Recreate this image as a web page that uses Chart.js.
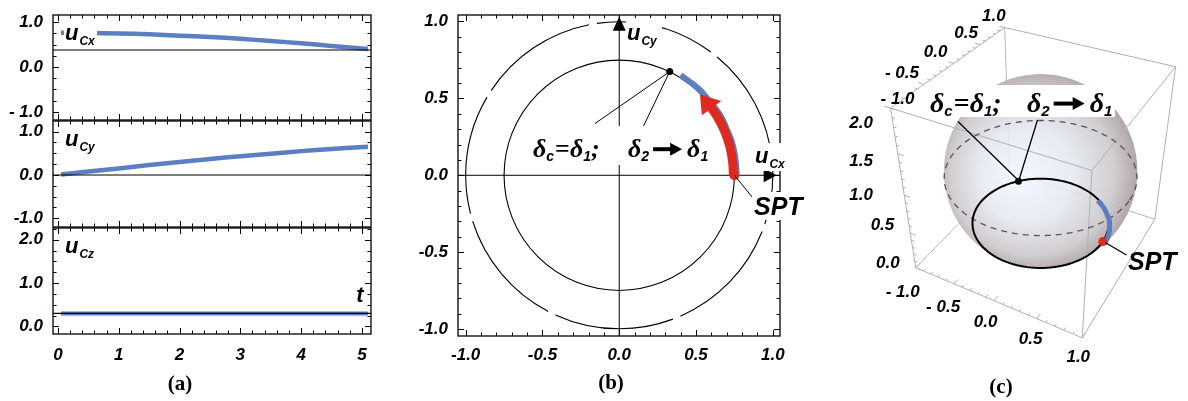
<!DOCTYPE html>
<html>
<head>
<meta charset="utf-8">
<title>u_C trajectory</title>
<script src="https://cdn.jsdelivr.net/npm/chart.js@4.4.1/dist/chart.umd.min.js"></script>
<style>
  html, body { margin:0; padding:0; background:#fff; }
  #figure { position:relative; width:1188px; height:401px; overflow:hidden; background:#fff; }
  #figure canvas { position:absolute; }
  .caption { position:absolute; width:60px; text-align:center; font: bold 21px "Liberation Serif", serif; line-height:24px; color:#000; }
</style>
</head>
<body>
<div id="figure">
  <canvas id="stripX" width="380" height="125" style="left:0;top:0"></canvas>
  <canvas id="stripY" width="380" height="120" style="left:0;top:115px"></canvas>
  <canvas id="stripZ" width="380" height="181" style="left:0;top:220px"></canvas>
  <canvas id="plane" width="420" height="401" style="left:400px;top:0"></canvas>
  <canvas id="sphere" width="358" height="401" style="left:830px;top:0"></canvas>
  <div class="caption" style="left:150px;top:371px">(a)</div>
  <div class="caption" style="left:581px;top:370px">(b)</div>
  <div class="caption" style="left:971px;top:374px">(c)</div>
</div>
<script>
// ---------- data ----------
const tValues = [0.05, 0.5, 1.0, 1.5, 2.0, 2.5, 3.0, 3.5, 4.0, 4.5, 5.1];
const uCx = [0.765, 0.76, 0.75, 0.73, 0.70, 0.67, 0.63, 0.58, 0.53, 0.47, 0.40];
const uCy = [0.01, 0.08, 0.15, 0.23, 0.30, 0.37, 0.43, 0.49, 0.55, 0.60, 0.65];
const uCz = [0.30, 0.30, 0.30, 0.30, 0.30, 0.30, 0.30, 0.30, 0.30, 0.30, 0.30];
const timeTicks = [0, 1, 2, 3, 4, 5];
const uxTicks = [-1, 0, 1];
const uyTicks = [-1, 0, 1];
const uzTicks = [0, 1, 2];
const planeTicks = [-1, -0.5, 0, 0.5, 1];
const boxTicks = [-1, -0.5, 0, 0.5, 1];
const boxZTicks = [0, 0.5, 1, 1.5, 2];
const innerRadius = 0.75;      // radius of the delta circle
const deltaAngle = 64;         // delta_c point in the plane view, degrees
const sphereDeltaAngle = 139;  // delta_c point on the sphere view, degrees
const arrowTipAngle = 45;      // red arrow tip, degrees

const BLUE = '#5b7fc0';
const RED = '#e0291f';
const SANS = '"Liberation Sans", Arial, sans-serif';
const SERIF = '"Liberation Serif", "Times New Roman", serif';
const TICK_FONT = { family: SANS, size: 17, weight: 'bold', style: 'italic' };

// ---------- helpers ----------
function forSteps(min, max, step, major, cb) {
  for (let k = Math.ceil(min / step - 1e-9); k * step <= max + 1e-9; k++) {
    const v = k * step;
    cb(v, Math.abs(v / major - Math.round(v / major)) < 1e-6);
  }
}
function drawFrameTicks(ctx, a, xs, xMinor, xMajor, ys, yMinor, yMajor) {
  ctx.strokeStyle = '#000';
  ctx.lineWidth = 1.3;
  ctx.strokeRect(a.left, a.top, a.right - a.left, a.bottom - a.top);
  ctx.lineWidth = 1;
  ctx.beginPath();
  forSteps(xs.min, xs.max, xMinor, xMajor, (v, mj) => {
    const px = Math.round(xs.getPixelForValue(v)) + 0.5, L = mj ? 6 : 3.5;
    ctx.moveTo(px, a.bottom); ctx.lineTo(px, a.bottom - L);
    ctx.moveTo(px, a.top); ctx.lineTo(px, a.top + L);
  });
  forSteps(ys.min, ys.max, yMinor, yMajor, (v, mj) => {
    const py = Math.round(ys.getPixelForValue(v)) + 0.5, L = mj ? 6 : 3.5;
    ctx.moveTo(a.left, py); ctx.lineTo(a.left + L, py);
    ctx.moveTo(a.right, py); ctx.lineTo(a.right - L, py);
  });
  ctx.stroke();
}
function drawArrowGlyph(ctx, x, yMid, len, shaft, head, half) {
  ctx.fillRect(x, yMid - shaft / 2, len - head + 1, shaft);
  ctx.beginPath();
  ctx.moveTo(x + len - head, yMid - half);
  ctx.lineTo(x + len, yMid);
  ctx.lineTo(x + len - head, yMid + half);
  ctx.closePath();
  ctx.fill();
}
// runs of text with subscripts and arrow glyphs
function drawRich(ctx, x, y, parts) {
  let cx = x;
  ctx.textAlign = 'left';
  ctx.textBaseline = 'alphabetic';
  for (const p of parts) {
    if (p.arrow) {
      drawArrowGlyph(ctx, cx + p.pre, y - p.lift, p.len, p.shaft, p.head, p.half);
      cx += p.pre + p.len + p.post;
      continue;
    }
    ctx.font = p.font;
    ctx.fillText(p.t, cx + (p.dx || 0), y + (p.dy || 0));
    cx += ctx.measureText(p.t).width + (p.dx || 0);
  }
  return cx;
}
function symbolLabel(ctx, x, y, sub, big, small) {
  drawRich(ctx, x, y, [
    { t: 'u', font: `italic bold ${big}px ${SANS}` },
    { t: sub, font: `italic bold ${small}px ${SANS}`, dx: 1, dy: 5 }
  ]);
}
function whiteBox(ctx, x0, y0, x1, y1) {
  ctx.fillStyle = '#fff';
  ctx.fillRect(x0, y0, x1 - x0, y1 - y0);
  ctx.fillStyle = '#000';
}
function deltaParts(size, subSize) {
  const d = `italic bold ${size}px ${SERIF}`, s = `italic bold ${subSize}px ${SANS}`;
  return {
    eq: [{ t: 'δ', font: d }, { t: 'c', font: s, dy: 4 }, { t: '=', font: `bold ${size}px ${SERIF}`, dx: 1 },
         { t: 'δ', font: d }, { t: '1', font: s, dy: 4 }, { t: ';', font: d }],
    go: [{ t: 'δ', font: d }, { t: '2', font: s, dy: 4 },
         { arrow: true, pre: 4, len: Math.round(size * 1.1), shaft: 4, head: 12, half: 6.5, lift: size * 0.3, post: 5 },
         { t: 'δ', font: d }, { t: '1', font: s, dy: 4 }]
  };
}
function fmtTick(spaced) {
  return v => { const s = Math.abs(v).toFixed(1); return v < 0 ? (spaced ? '- ' : '-') + s : s; };
}
const baseOptions = () => ({
  responsive: false, animation: false, devicePixelRatio: 1, events: [],
  plugins: { legend: { display: false }, tooltip: { enabled: false } }
});
// fixed axis sizes, so the plot area sits exactly inside the layout padding
const fixY = w => s => { s.width = w; s.paddingTop = 0; s.paddingBottom = 0; };
const fixX = h => s => { s.height = h; s.paddingLeft = 0; s.paddingRight = 0; };

// ---------- panel (a): three component strips ----------
const stripFramePlugin = {
  id: 'stripFrame',
  afterDatasetsDraw(chart, args, o) {
    const { ctx, chartArea: a, scales: { x, y } } = chart;
    ctx.save();
    const ly = y.getPixelForValue(o.level);
    ctx.strokeStyle = '#000'; ctx.lineWidth = 1.2;
    ctx.beginPath(); ctx.moveTo(a.left, ly); ctx.lineTo(a.right, ly); ctx.stroke();
    drawFrameTicks(ctx, a, x, 0.2, 1, y, 0.25, 1);
    if (o.box) whiteBox(ctx, a.left + 11, a.top + 7, a.left + 44, a.top + 33);
    ctx.fillStyle = '#000';
    symbolLabel(ctx, a.left + 12, a.top + 25, o.sub, 22, 12);
    if (o.showT) {
      ctx.font = `italic bold 22px ${SANS}`;
      ctx.textAlign = 'center';
      ctx.fillText('t', a.right - 11, a.top + 74);
    }
    ctx.restore();
  }
};
function makeStrip(id, values, cfg) {
  const opts = baseOptions();
  opts.layout = { padding: { top: cfg.padTop, bottom: cfg.padBottom, left: 0, right: 9 } };
  opts.plugins.stripFrame = { level: cfg.level, sub: cfg.sub, showT: cfg.showX, box: cfg.box };
  const xScale = {
    type: 'linear', min: -0.082, max: 5.15, display: cfg.showX,
    grid: { display: false, drawTicks: false }, border: { display: false },
    afterBuildTicks: s => { s.ticks = timeTicks.map(v => ({ value: v })); },
    ticks: { font: TICK_FONT, color: '#000', padding: 11, maxRotation: 0, autoSkip: false, callback: v => String(v) }
  };
  if (cfg.showX) xScale.afterFit = fixX(67);
  opts.scales = {
    x: xScale,
    y: {
      type: 'linear', min: cfg.min, max: cfg.max,
      grid: { display: false, drawTicks: false }, border: { display: false },
      afterBuildTicks: s => { s.ticks = cfg.ticks.map(v => ({ value: v })); },
      afterFit: fixY(53),
      ticks: { font: TICK_FONT, color: '#000', padding: 10, autoSkip: false, callback: fmtTick(cfg.spaced) }
    }
  };
  return new Chart(document.getElementById(id), {
    type: 'scatter',
    data: { datasets: [{
      data: tValues.map((t, i) => ({ x: t, y: values[i] })),
      showLine: true, borderColor: BLUE, borderWidth: cfg.lw, pointRadius: 0, tension: 0.3, borderCapStyle: 'butt'
    }] },
    options: opts,
    plugins: [stripFramePlugin]
  });
}
makeStrip('stripX', uCx, { min: -1.18, max: 1.16, ticks: uxTicks, level: 0.38, sub: 'Cx', padTop: 15, padBottom: 5, showX: false, spaced: true, lw: 4.5, box: true });
makeStrip('stripY', uCy, { min: -1.2, max: 1.245, ticks: uyTicks, level: 0, sub: 'Cy', padTop: 6, padBottom: 8, showX: false, spaced: false, lw: 4.5, box: false });
makeStrip('stripZ', uCz, { min: -0.175, max: 2.27, ticks: uzTicks, level: 0.30, sub: 'Cz', padTop: 8, padBottom: 0, showX: true, spaced: false, lw: 4, box: false });

// ---------- panel (b): projection on the u_Cx-u_Cy plane ----------
const rad = Math.PI / 180;
const deltaPoint = { x: innerRadius * Math.cos(deltaAngle * rad), y: innerRadius * Math.sin(deltaAngle * rad) };
const sptPoint = { x: innerRadius, y: 0 };

const planePlugin = {
  id: 'planeDecor',
  beforeDatasetsDraw(chart) {
    const { ctx, chartArea: a, scales: { x, y } } = chart;
    const ox = x.getPixelForValue(0), oy = y.getPixelForValue(0);
    const unit = x.getPixelForValue(1) - ox;
    ctx.save();
    ctx.strokeStyle = '#000';
    // unit circle in long dashes: a short gap every 48 degrees
    const period = unit * 48 * rad, gap = 8, firstGap = 20 * rad * unit;
    ctx.lineWidth = 1.1;
    ctx.setLineDash([period - gap, gap]);
    ctx.lineDashOffset = period - gap / 2 - firstGap;
    ctx.beginPath(); ctx.arc(ox, oy, unit, 0, Math.PI * 2); ctx.stroke();
    ctx.setLineDash([]);
    // delta circle
    ctx.beginPath(); ctx.arc(ox, oy, innerRadius * unit, 0, Math.PI * 2); ctx.stroke();
    // axes with arrow heads
    ctx.lineWidth = 1;
    ctx.beginPath();
    ctx.moveTo(a.left, oy); ctx.lineTo(a.right, oy);
    ctx.moveTo(ox, a.bottom); ctx.lineTo(ox, a.top);
    ctx.stroke();
    ctx.fillStyle = '#000';
    const hx = x.getPixelForValue(1.025);
    ctx.beginPath(); ctx.moveTo(hx, oy); ctx.lineTo(hx - 13, oy - 7); ctx.lineTo(hx - 13, oy + 7); ctx.closePath(); ctx.fill();
    const hy = y.getPixelForValue(1.03);
    ctx.beginPath(); ctx.moveTo(ox, hy); ctx.lineTo(ox - 6.5, hy + 14); ctx.lineTo(ox + 6.5, hy + 14); ctx.closePath(); ctx.fill();
    ctx.restore();
  },
  afterDatasetDraw(chart, args) {
    if (args.index !== 2) return;
    // red arrow along the delta circle, drawn over the trajectory
    const { ctx, scales: { x, y } } = chart;
    const ox = x.getPixelForValue(0), oy = y.getPixelForValue(0);
    const R = innerRadius * (x.getPixelForValue(1) - ox) - 1;
    const tip = arrowTipAngle * rad, base = (arrowTipAngle - 9) * rad;
    ctx.save();
    ctx.strokeStyle = RED; ctx.fillStyle = RED;
    ctx.lineWidth = 9;
    ctx.beginPath(); ctx.arc(ox, oy, R, 0, -(base + 1 * rad), true); ctx.stroke();
    const bx = ox + R * Math.cos(base), by = oy - R * Math.sin(base);
    const nx = Math.cos(base), ny = -Math.sin(base);
    ctx.beginPath();
    ctx.moveTo(bx + nx * 12, by + ny * 12);
    ctx.lineTo(ox + R * Math.cos(tip), oy - R * Math.sin(tip));
    ctx.lineTo(bx - nx * 12, by - ny * 12);
    ctx.closePath(); ctx.fill();
    ctx.restore();
  },
  afterDatasetsDraw(chart) {
    const { ctx, chartArea: a, scales: { x, y } } = chart;
    ctx.save();
    drawFrameTicks(ctx, a, x, 0.1, 0.5, y, 0.1, 0.5);
    const dx = x.getPixelForValue(deltaPoint.x), dy = y.getPixelForValue(deltaPoint.y);
    const sx = x.getPixelForValue(sptPoint.x), sy = y.getPixelForValue(sptPoint.y);
    ctx.strokeStyle = '#000'; ctx.lineWidth = 1;
    ctx.beginPath();
    ctx.moveTo(dx, dy); ctx.lineTo(195, 123.5);
    ctx.moveTo(dx, dy); ctx.lineTo(243.5, 126);
    ctx.moveTo(sx, sy); ctx.lineTo(353, 198);
    ctx.stroke();
    whiteBox(ctx, 128, 126, 316, 165);
    whiteBox(ctx, 226, 18, 262, 49);
    whiteBox(ctx, 352, 143, 388, 171);
    whiteBox(ctx, 352, 192, 402, 220);
    const dp = deltaParts(26, 14);
    drawRich(ctx, 133, 157, dp.eq);
    drawRich(ctx, 228, 157, dp.go);
    symbolLabel(ctx, 227, 40, 'Cy', 22, 12);
    symbolLabel(ctx, 355, 163, 'Cx', 22, 12);
    ctx.font = `italic bold 25px ${SANS}`;
    ctx.fillText('SPT', 354, 215);
    ctx.restore();
  }
};
(function () {
  const opts = baseOptions();
  opts.layout = { padding: { top: 15, right: 40, left: 0, bottom: 0 } };
  opts.scales = {
    x: {
      type: 'linear', min: -1.05, max: 1.047,
      grid: { display: false, drawTicks: false }, border: { display: false },
      afterBuildTicks: s => { s.ticks = planeTicks.map(v => ({ value: v })); },
      afterFit: fixX(65),
      ticks: { font: TICK_FONT, color: '#000', padding: 9, maxRotation: 0, autoSkip: false, callback: fmtTick(false) }
    },
    y: {
      type: 'linear', min: -1.045, max: 1.042,
      grid: { display: false, drawTicks: false }, border: { display: false },
      afterBuildTicks: s => { s.ticks = planeTicks.map(v => ({ value: v })); },
      afterFit: fixY(58),
      ticks: { font: TICK_FONT, color: '#000', padding: 10, autoSkip: false, callback: fmtTick(false) }
    }
  };
  new Chart(document.getElementById('plane'), {
    type: 'scatter',
    data: { datasets: [
      { data: [deltaPoint], pointRadius: 3.5, pointBackgroundColor: '#000', pointBorderWidth: 0, order: 0 },
      { data: [sptPoint], pointRadius: 5, pointBackgroundColor: RED, pointBorderWidth: 0, order: 1 },
      { data: uCx.map((v, i) => ({ x: v, y: uCy[i] })), showLine: true, borderColor: BLUE, borderWidth: 6,
        pointRadius: 0, tension: 0.3, borderCapStyle: 'butt', order: 5 }
    ] },
    options: opts,
    plugins: [planePlugin]
  });
})();

// ---------- panel (c): the sphere in 3D ----------
// perspective camera given by eye position, look-at point, focal length and image centre
function makeCamera(eye, target, f, cx, cy) {
  const wd = [target[0] - eye[0], target[1] - eye[1], target[2] - eye[2]];
  const wn = Math.hypot(wd[0], wd[1], wd[2]);
  const w = [wd[0] / wn, wd[1] / wn, wd[2] / wn];
  const rn = Math.hypot(w[1], w[0]);
  const r = [w[1] / rn, -w[0] / rn, 0];
  const u = [r[1] * w[2] - r[2] * w[1], r[2] * w[0] - r[0] * w[2], r[0] * w[1] - r[1] * w[0]];
  const project = P => {
    const d = [P[0] - eye[0], P[1] - eye[1], P[2] - eye[2]];
    const z = d[0] * w[0] + d[1] * w[1] + d[2] * w[2];
    return [cx + f * (d[0] * r[0] + d[1] * r[1] + d[2] * r[2]) / z,
            cy - f * (d[0] * u[0] + d[1] * u[1] + d[2] * u[2]) / z, z];
  };
  return { eye, project };
}
// outline of a sphere as seen from the eye
function sphereOutline(cam, S, rho, n) {
  const v = [cam.eye[0] - S[0], cam.eye[1] - S[1], cam.eye[2] - S[2]];
  const L2 = v[0] * v[0] + v[1] * v[1] + v[2] * v[2], L = Math.sqrt(L2), k = rho * rho / L2;
  const Q = [S[0] + v[0] * k, S[1] + v[1] * k, S[2] + v[2] * k], rs = rho * Math.sqrt(1 - k);
  const vn = [v[0] / L, v[1] / L, v[2] / L];
  let e1 = [vn[1], -vn[0], 0]; const n1 = Math.hypot(e1[0], e1[1]); e1 = [e1[0] / n1, e1[1] / n1, 0];
  const e2 = [vn[1] * e1[2] - vn[2] * e1[1], vn[2] * e1[0] - vn[0] * e1[2], vn[0] * e1[1] - vn[1] * e1[0]];
  const pts = [];
  for (let i = 0; i < n; i++) {
    const t = 2 * Math.PI * i / n;
    pts.push(cam.project([Q[0] + rs * (Math.cos(t) * e1[0] + Math.sin(t) * e2[0]),
                          Q[1] + rs * (Math.cos(t) * e1[1] + Math.sin(t) * e2[1]),
                          Q[2] + rs * (Math.cos(t) * e1[2] + Math.sin(t) * e2[2])]));
  }
  return pts;
}
const boxCenter = [0, 0, 1];
const viewPoint = [1.3, -2.4, 2];   // in box-scaled units (box side = 1)
const eyePos = [boxCenter[0] + 2 * viewPoint[0], boxCenter[1] + 2 * viewPoint[1], boxCenter[2] + 2 * viewPoint[2]];
const cam = makeCamera(eyePos, boxCenter, 664.5, 211.4, 170.5);
const circleZ = 1 - Math.sqrt(1 - innerRadius * innerRadius);

const boxCorners = {
  A: [-1, -1, 2], B: [-1, 1, 2], C: [1, 1, 2], D: [1, -1, 2],
  E: [-1, -1, 0], F: [1, -1, 0], G: [1, 1, 0], H: [-1, 1, 0]
};
const backEdges = [['B', 'H'], ['E', 'H'], ['H', 'G']];
const frontEdges = [['A', 'B'], ['B', 'C'], ['C', 'D'], ['D', 'A'], ['A', 'E'], ['D', 'F'], ['C', 'G'], ['E', 'F'], ['F', 'G']];
const boxLabel = v => v < 0 ? '- ' + Math.abs(v).toFixed(1) : v.toFixed(1);

const spherePlugin = {
  id: 'sphereDecor',
  beforeDatasetsDraw(chart) {
    const { ctx, scales: { x, y } } = chart;
    const P = p => { const q = cam.project(p); return [x.getPixelForValue(q[0]), y.getPixelForValue(q[1])]; };
    const seg = (p, q) => { const a = P(p), b = P(q); ctx.moveTo(a[0], a[1]); ctx.lineTo(b[0], b[1]); };
    ctx.save();
    ctx.strokeStyle = '#b8b8b8'; ctx.lineWidth = 1;
    ctx.beginPath(); backEdges.forEach(([m, n]) => seg(boxCorners[m], boxCorners[n])); ctx.stroke();
    // translucent shaded sphere
    const sil = sphereOutline(cam, [0, 0, 1], 1, 120).map(q => [x.getPixelForValue(q[0]), y.getPixelForValue(q[1])]);
    const c0 = P([0, 0, 1]);
    let rMax = 0; sil.forEach(q => { rMax = Math.max(rMax, Math.hypot(q[0] - c0[0], q[1] - c0[1])); });
    const g = ctx.createRadialGradient(c0[0] - 22, c0[1] + 8, 2, c0[0] - 5, c0[1], rMax * 1.05);
    g.addColorStop(0, 'rgba(242,247,255,0.90)');
    g.addColorStop(0.45, 'rgba(228,232,240,0.88)');
    g.addColorStop(0.8, 'rgba(203,199,202,0.88)');
    g.addColorStop(1, 'rgba(168,156,156,0.90)');
    ctx.fillStyle = g;
    ctx.beginPath(); sil.forEach((q, i) => i ? ctx.lineTo(q[0], q[1]) : ctx.moveTo(q[0], q[1])); ctx.closePath(); ctx.fill();
    ctx.strokeStyle = '#b0b0b0';
    ctx.beginPath(); frontEdges.forEach(([m, n]) => seg(boxCorners[m], boxCorners[n])); ctx.stroke();
    ctx.beginPath();
    forSteps(-1, 1, 0.1, 0.5, (v, mj) => { const L = mj ? 0.07 : 0.035; seg([-1, v, 2], [-1 - L, v, 2]); seg([v, -1, 0], [v, -1 + L, 0]); });
    forSteps(0, 2, 0.1, 0.5, (v, mj) => { const L = mj ? 0.07 : 0.035; seg([-1, -1, v], [-1 + L, -1, v]); });
    ctx.stroke();
    // equator, dashed
    ctx.strokeStyle = '#555'; ctx.lineWidth = 1.3; ctx.setLineDash([6, 5]);
    ctx.beginPath();
    for (let i = 0; i <= 120; i++) { const t = 2 * Math.PI * i / 120; const q = P([Math.cos(t), Math.sin(t), 1]); i ? ctx.lineTo(q[0], q[1]) : ctx.moveTo(q[0], q[1]); }
    ctx.stroke(); ctx.setLineDash([]);
    // delta circle on the sphere
    ctx.strokeStyle = '#000'; ctx.lineWidth = 2;
    ctx.beginPath();
    for (let i = 0; i <= 120; i++) { const t = 2 * Math.PI * i / 120; const q = P([innerRadius * Math.cos(t), innerRadius * Math.sin(t), circleZ]); i ? ctx.lineTo(q[0], q[1]) : ctx.moveTo(q[0], q[1]); }
    ctx.stroke();
    // tick labels of the box
    ctx.fillStyle = '#000';
    ctx.font = `italic bold 17px ${SANS}`;
    ctx.textBaseline = 'middle';
    ctx.textAlign = 'center';
    boxTicks.forEach(v => {
      const q = P([-1, v, 2]);
      const s = v === -1 ? [7, -9] : [-22 + 7.5 * (v + 0.5), -11];
      ctx.fillText(boxLabel(v), q[0] + s[0], q[1] + s[1]);
    });
    boxTicks.forEach(v => { const q = P([v, -1, 0]); ctx.fillText(boxLabel(v), q[0] - 8.5 + 4.5 * v, q[1] + 22 - 2.5 * v); });
    ctx.textAlign = 'right';
    boxZTicks.forEach(v => {
      const q = P([-1, -1, v]);
      ctx.fillText(boxLabel(v), v >= 1 ? 43 : q[0] - 16, q[1] + (v >= 0.5 ? 15 * (v - 1) : -4));
    });
    ctx.restore();
  },
  afterDatasetsDraw(chart) {
    const { ctx } = chart;
    const d = cam.project([innerRadius * Math.cos(sphereDeltaAngle * rad), innerRadius * Math.sin(sphereDeltaAngle * rad), circleZ]);
    const s = cam.project([innerRadius, 0, circleZ]);
    ctx.save();
    ctx.strokeStyle = '#000'; ctx.lineWidth = 1.3;
    ctx.beginPath();
    ctx.moveTo(d[0], d[1]); ctx.lineTo(128, 121.5);
    ctx.moveTo(d[0], d[1]); ctx.lineTo(207.5, 120);
    ctx.moveTo(s[0], s[1]); ctx.lineTo(296.5, 255);
    ctx.stroke();
    whiteBox(ctx, 95, 85, 285, 117);
    const dp = deltaParts(28, 15);
    drawRich(ctx, 100, 112, dp.eq);
    drawRich(ctx, 197, 112, dp.go);
    ctx.font = `italic bold 25px ${SANS}`;
    ctx.fillText('SPT', 298, 270);
    ctx.restore();
  }
};
(function () {
  const opts = baseOptions();
  opts.layout = { padding: 0 };
  opts.scales = {
    x: { type: 'linear', min: 0, max: 358, display: false },
    y: { type: 'linear', min: 0, max: 401, reverse: true, display: false }
  };
  const P = p => { const q = cam.project(p); return { x: q[0], y: q[1] }; };
  new Chart(document.getElementById('sphere'), {
    type: 'scatter',
    data: { datasets: [
      { data: [P([innerRadius * Math.cos(sphereDeltaAngle * rad), innerRadius * Math.sin(sphereDeltaAngle * rad), circleZ])],
        pointRadius: 3.5, pointBackgroundColor: '#000', pointBorderWidth: 0, order: 0 },
      { data: [P([innerRadius, 0, circleZ])], pointRadius: 4.5, pointBackgroundColor: RED, pointBorderWidth: 0, order: 1 },
      { data: tValues.map((t, i) => P([uCx[i], uCy[i], uCz[i]])), showLine: true, borderColor: BLUE, borderWidth: 5,
        pointRadius: 0, tension: 0.3, order: 5 }
    ] },
    options: opts,
    plugins: [spherePlugin]
  });
})();
</script>
</body>
</html>
